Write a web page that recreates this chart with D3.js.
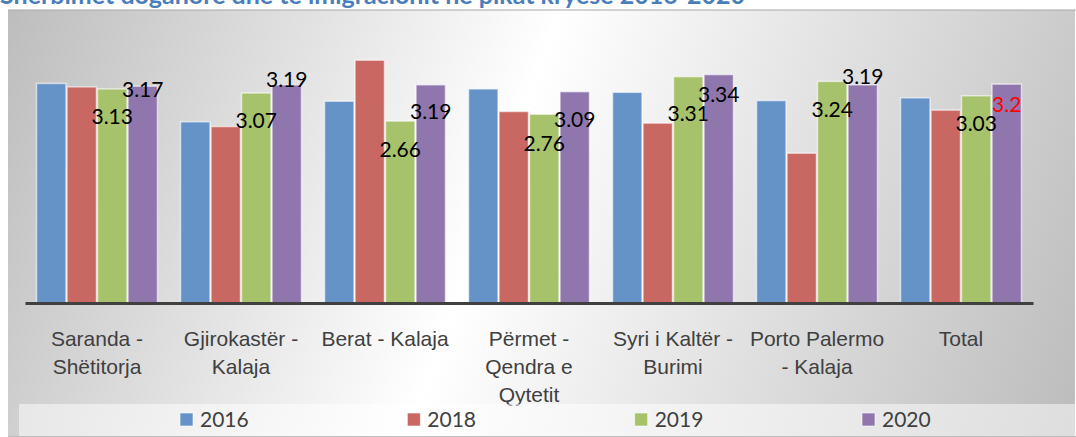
<!DOCTYPE html>
<html lang="sq">
<head>
<meta charset="UTF-8">
<title>Shërbimet doganore dhe të imigracionit</title>
<script src="https://d3js.org/d3.v7.min.js"></script>
<style>
  body { margin: 0; background: #fff; }
  svg { display: block; font-family: Lato, "Open Sans", sans-serif; }
</style>
</head>
<body>
<svg width="1076" height="437"></svg>
<script>
// Data
const categories = ["Saranda - Shëtitorja", "Gjirokastër - Kalaja", "Berat - Kalaja",
  "Përmet - Qendra e Qytetit", "Syri i Kaltër - Burimi", "Porto Palermo - Kalaja", "Total"];
const tickLines = [["Saranda -", "Shëtitorja"], ["Gjirokastër -", "Kalaja"], ["Berat - Kalaja"],
  ["Përmet -", "Qendra e", "Qytetit"], ["Syri i Kaltër -", "Burimi"], ["Porto Palermo", "- Kalaja"], ["Total"]];
const years = ["2016", "2018", "2019", "2020"];
const v2016 = [3.21, 2.65, 2.95, 3.13, 3.08, 2.96, 3.00];
const v2018 = [3.16, 2.58, 3.55, 2.80, 2.63, 2.19, 2.82];
const v2019 = [3.13, 3.07, 2.66, 2.76, 3.31, 3.24, 3.03];
const v2020 = [3.17, 3.19, 3.19, 3.09, 3.34, 3.19, 3.2];
const labelled = ["2019", "2020"];

// layout: label nudges (px from bar top), as placed in the original
const labelDy = {
  "2019": [28, 27, 28, 29, 37, 28, 28],
  "2020": [3, -5, 27, 28, 20, -8, 20]
};

const colors = { "2016": "#6592c7", "2018": "#c96762", "2019": "#a6c26b", "2020": "#8f77ad" };
const seriesValues = { "2016": v2016, "2018": v2018, "2019": v2019, "2020": v2020 };

const svg = d3.select("svg");
const W = 1076, H = 437;
const plot = { left: 25, right: 1033, top: 29.4, bottom: 303 };

// background gradient
const defs = svg.append("defs");
const grad = defs.append("linearGradient")
  .attr("id", "bg")
  .attr("gradientUnits", "userSpaceOnUse")
  .attr("x1", 0).attr("y1", 50).attr("x2", W).attr("y2", 434);
grad.append("stop").attr("offset", "0%").attr("stop-color", "#bebebe");
grad.append("stop").attr("offset", "45%").attr("stop-color", "#ffffff");
grad.append("stop").attr("offset", "100%").attr("stop-color", "#bcbcbc");

// title (cut at the top of the picture, as in the original)
svg.append("text")
  .attr("x", 0)
  .attr("y", 4)
  .attr("fill", "#4a7ebb")
  .attr("font-weight", "bold")
  .attr("font-size", "25px")
  .text("Shërbimet doganore dhe të imigracionit në pikat kryese 2016-2020");

svg.append("rect")
  .attr("x", 8).attr("y", 10)
  .attr("width", W - 9).attr("height", 426)
  .attr("fill", "url(#bg)");
svg.append("line")
  .attr("x1", 8).attr("x2", W).attr("y1", 10).attr("y2", 10)
  .attr("stroke", "#a8a8a8").attr("stroke-width", 1.2);

// scales
const x0 = d3.scaleBand()
  .domain(categories)
  .range([plot.left, plot.right])
  .paddingInner(0.153)
  .paddingOuter(0.0765);

const x1 = d3.scaleBand()
  .domain(years)
  .range([0, x0.bandwidth()]);

const y = d3.scaleLinear()
  .domain([0, 4])
  .range([plot.bottom, plot.top]);

// bars
const groups = svg.append("g")
  .selectAll("g")
  .data(categories)
  .join("g")
  .attr("transform", d => `translate(${x0(d)},0)`);

groups.selectAll("rect")
  .data((d, i) => years.map(yr => ({ year: yr, value: seriesValues[yr][i] })))
  .join("rect")
  .attr("x", d => x1(d.year) + 0.5)
  .attr("y", d => y(d.value))
  .attr("width", x1.bandwidth() - 1)
  .attr("height", d => y(0) - y(d.value))
  .attr("fill", d => colors[d.year])
  .attr("stroke", "rgba(255,255,255,0.6)")
  .attr("stroke-width", 1.5);

// x axis
const xAxis = svg.append("g")
  .attr("transform", `translate(0,${plot.bottom})`)
  .call(d3.axisBottom(x0).tickSize(0).tickFormat(""));
xAxis.select(".domain")
  .attr("stroke", "#404040")
  .attr("stroke-width", 3);
xAxis.selectAll(".tick text").remove();
xAxis.selectAll(".tick").each(function (d, i) {
  const t = d3.select(this).append("text")
    .attr("fill", "#404040")
    .attr("font-size", "21px")
    .attr("text-anchor", "middle");
  tickLines[i].forEach((line, k) => {
    t.append("tspan").attr("x", 0).attr("y", 43 + k * 28).text(line);
  });
});

// data labels for 2019 and 2020
labelled.forEach(yr => {
  svg.append("g")
    .selectAll("text")
    .data(categories)
    .join("text")
    .attr("x", d => x0(d) + x1(yr) + x1.bandwidth() / 2)
    .attr("y", (d, i) => y(seriesValues[yr][i]) + labelDy[yr][i] + 7.5)
    .attr("text-anchor", "middle")
    .attr("font-size", "21px")
    .attr("fill", (d, i) => (yr === "2020" && i === categories.length - 1) ? "#ff0000" : "#000")
    .text((d, i) => seriesValues[yr][i]);
});

// legend
svg.append("rect")
  .attr("x", 19).attr("y", 404)
  .attr("width", W - 19).attr("height", 32)
  .attr("fill", "#ffffff").attr("fill-opacity", 0.5);
svg.append("line")
  .attr("x1", 8).attr("x2", W).attr("y1", 436.5).attr("y2", 436.5)
  .attr("stroke", "#bdbdbd");

const legendX = d3.scalePoint()
  .domain(years)
  .range([180, 862]);

const legend = svg.append("g")
  .selectAll("g")
  .data(years)
  .join("g")
  .attr("transform", d => `translate(${legendX(d)},413)`);
legend.append("rect")
  .attr("width", 13).attr("height", 13)
  .attr("fill", d => colors[d])
  .attr("stroke", "rgba(255,255,255,0.6)");
legend.append("text")
  .attr("x", 20).attr("y", 14)
  .attr("fill", "#404040")
  .attr("font-size", "21px")
  .text(d => d);
</script>
</body>
</html>
